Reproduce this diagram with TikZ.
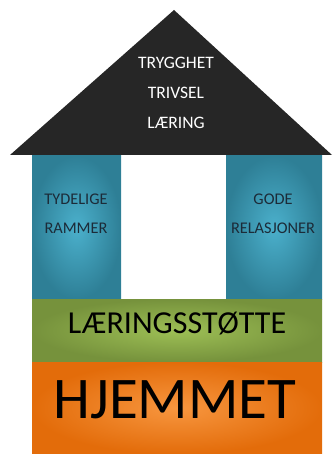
\documentclass[tikz,border=0pt]{standalone}
\usepackage{fontspec}
\setmainfont{Carlito}
\definecolor{roofgray}{HTML}{262626}
\definecolor{tealdark}{HTML}{2E7F96}
\definecolor{teallight}{HTML}{4BB0CC}
\definecolor{greendark}{HTML}{76923C}
\definecolor{greenlight}{HTML}{9DBF55}
\definecolor{orangedark}{HTML}{E36C0A}
\definecolor{orangelight}{HTML}{F7963F}
\definecolor{pillartext}{HTML}{1C2B38}
\begin{document}
\begin{tikzpicture}[x=1pt,y=-1pt,every node/.style={inner sep=0pt}]
	\tikzstyle{roofword}=[text=white,font=\fontsize{17.5}{17.5}\selectfont]
	\tikzstyle{pillarword}=[text=pillartext,font=\fontsize{16.3}{16.3}\selectfont]
	\tikzstyle{pillar}=[inner color=teallight,outer color=tealdark]
	\useasboundingbox (0,0) rectangle (332,454);
	% roof
	\fill[roofgray] (174,10) -- (332,155) -- (10,155) -- cycle;
	\node[roofword] (trygghet) at (176,63) {TRYGGHET};
	\node[roofword] (trivsel) at (176,93) {TRIVSEL};
	\node[roofword] (laering) at (176,123) {LÆRING};
	% pillars
	\shade[pillar] (32,156) rectangle (121,299);
	\shade[pillar] (226,156) rectangle (322,299);
	\node[pillarword] (tydelige) at (76,199) {TYDELIGE};
	\node[pillarword] (rammer) at (76,228) {RAMMER};
	\node[pillarword] (gode) at (273,199) {GODE};
	\node[pillarword] (relasjoner) at (273,228) {RELASJONER};
	% floors
	\shade[inner color=greenlight,outer color=greendark] (32,299) rectangle (322,362);
	\node[font=\fontsize{32}{32}\selectfont] (stotte) at (177,324) {LÆRINGSSTØTTE};
	\shade[inner color=orangelight,outer color=orangedark] (32,362) rectangle (322,454);
	\node[font=\fontsize{59}{59}\selectfont] (hjemmet) at (175,400) {HJEMMET};
\end{tikzpicture}
\end{document}
